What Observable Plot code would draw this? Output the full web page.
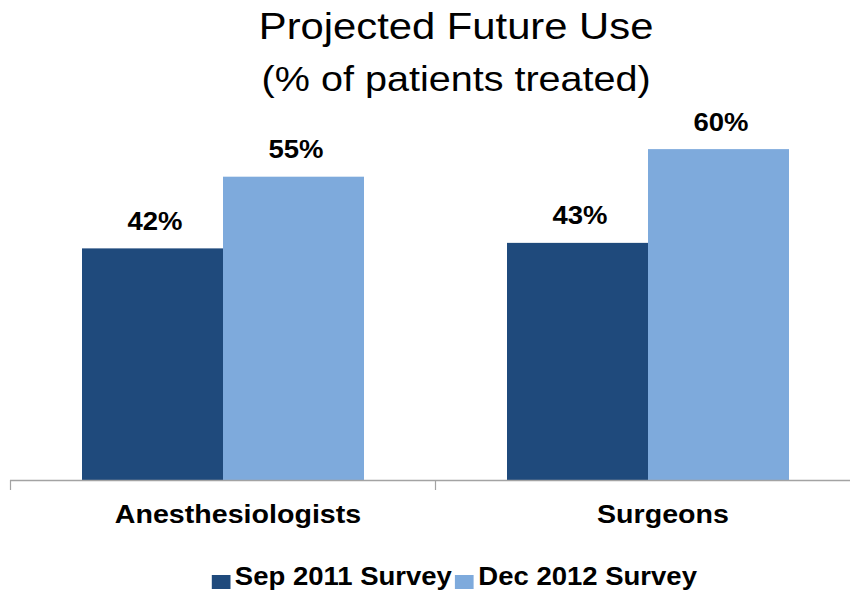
<!DOCTYPE html>
<html>
<head>
<meta charset="utf-8">
<script src="https://cdn.jsdelivr.net/npm/d3@7"></script>
<script src="https://cdn.jsdelivr.net/npm/@observablehq/plot@0.6"></script>
<style>
  html, body { margin: 0; padding: 0; background: #fff; overflow: hidden; }
  body { width: 850px; height: 595px; font-family: "Liberation Sans", Arial, sans-serif; color: #000; }
  #header { height: 105px; padding-left: 62px; text-align: center; }
  #header .line { display: block; white-space: nowrap; }
  #header .line span { display: inline-block; transform-origin: center; }
  #title { font-size: 36px; line-height: 53px; height: 53px; }
  #title span { transform: scaleX(1.16); }
  #subtitle { font-size: 35px; line-height: 52px; height: 52px; }
  #subtitle span { transform: scaleX(1.13); }
  #chart svg { display: block; overflow: hidden; }
  #legend { padding-left: 62px; padding-top: 17px; }
  #legend > div { transform: scaleX(1.1); transform-origin: center; }
  .leg-swatches, .leg-swatches-wrap { display: flex !important; justify-content: center !important; align-items: center; margin: 0 !important; min-height: 0 !important; }
  .leg-swatch { margin-right: 3px !important; display: inline-flex; align-items: center; }
  .leg-swatch svg { margin-right: 4px !important; position: relative; top: 5px; }
</style>
</head>
<body>
<div id="header">
  <div id="title" class="line"><span>Projected Future Use</span></div>
  <div id="subtitle" class="line"><span>(% of patients treated)</span></div>
</div>
<div id="chart"></div>
<div id="legend"></div>
<script>
// Respondent groups, survey waves and the projected share of patients treated (%)
const groups = ["Anesthesiologists", "Surgeons"];
const surveys = ["Sep 2011 Survey", "Dec 2012 Survey"];
const sep2011 = [42, 43];
const dec2012 = [55, 60];
const surveyColors = ["#1f4a7c", "#7eaadc"];

const rows = groups.flatMap((g, i) => [
  {group: g, survey: surveys[0], value: sep2011[i]},
  {group: g, survey: surveys[1], value: dec2012[i]}
]);

const width = 850;
const marginLeft = 10;
const marginRight = -10;   // the baseline runs on past the right edge
const plotHeight = 375;
const marginBottom = 65;
const axisGray = "#a3a3a3";
const band = (width - marginLeft - marginRight) / groups.length;

const chart = Plot.plot({
  width,
  height: plotHeight + marginBottom,
  marginTop: 0,
  marginLeft,
  marginRight,
  marginBottom,
  style: {fontFamily: "'Liberation Sans', Arial, sans-serif", background: "#fff", color: "#000"},
  fx: {domain: groups, padding: 0, label: null},
  x: {domain: surveys, paddingInner: 0, paddingOuter: 0.507, axis: null},
  y: {domain: [0, 68], axis: null},
  color: {domain: surveys, range: surveyColors},
  marks: [
    Plot.barY(rows, {fx: "group", x: "survey", y: "value", fill: "survey"}),
    Plot.ruleY([0], {stroke: axisGray, strokeWidth: 1.5}),
    // short ticks on the boundaries between the groups
    Plot.axisFx({anchor: "bottom", tickSize: 10, tickFormat: () => "", dx: -band / 2, stroke: axisGray, strokeWidth: 1.2, label: null}),
    // group names under the baseline
    Plot.axisFx({anchor: "bottom", tickSize: 0, tickPadding: 24, fontSize: 26, fontWeight: "bold", dx: 15, label: null}),
    // value labels above each bar
    Plot.text(rows, {fx: "group", x: "survey", y: "value", text: d => `${d.value}%`, dy: -27, dx: 2, fontSize: 25, fontWeight: "bold", fill: "#000"})
  ]
});
document.getElementById("chart").append(chart);

// Widen the chart's lettering slightly
d3.select(chart).selectAll("text").each(function () {
  const len = this.getComputedTextLength();
  if (!len) return;
  const label = this.closest("g") ? (this.closest("g").getAttribute("aria-label") || "") : "";
  const k = label.includes("axis") ? 1.02 : 1.1;
  this.setAttribute("textLength", len * k);
  this.setAttribute("lengthAdjust", "spacingAndGlyphs");
});

const legend = chart.legend("color", {
  className: "leg",
  swatchWidth: 17,
  swatchHeight: 14,
  style: {fontSize: "25px", fontWeight: "bold", fontFamily: "'Liberation Sans', Arial, sans-serif", color: "#000"}
});
document.getElementById("legend").append(legend);
</script>
</body>
</html>
